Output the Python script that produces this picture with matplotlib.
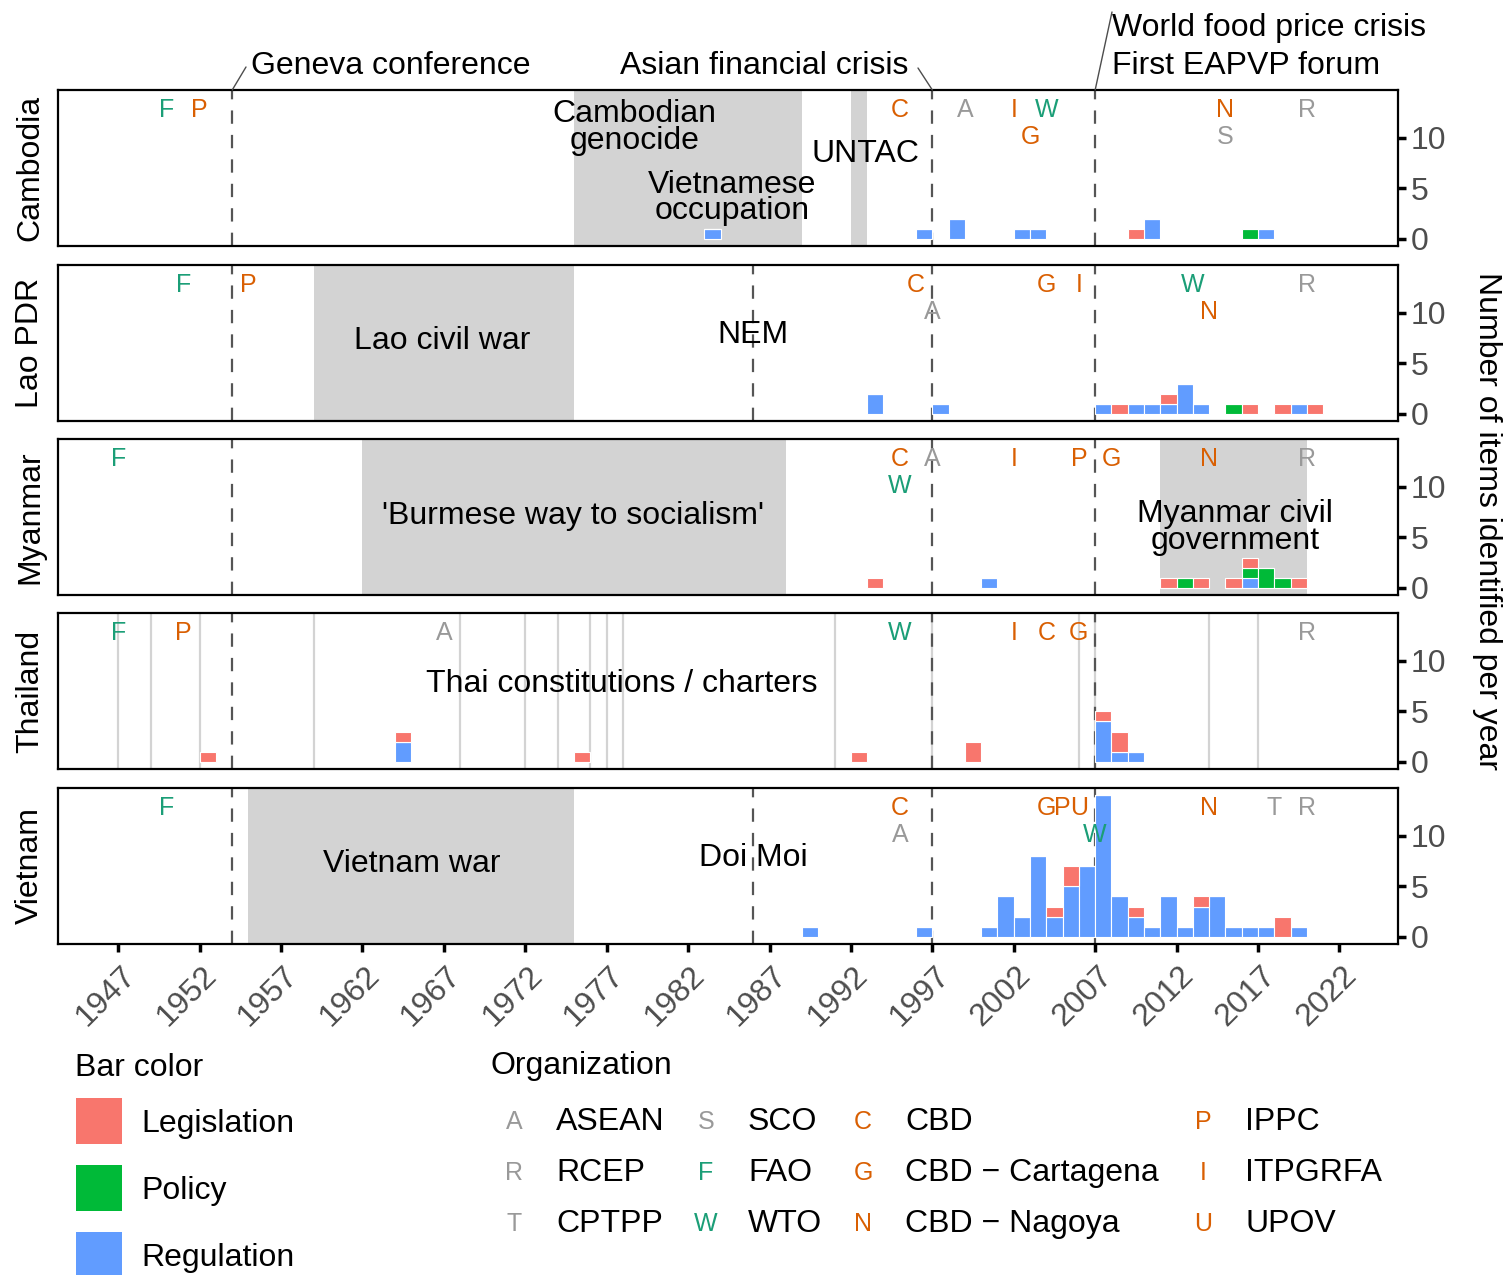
import matplotlib
matplotlib.use("Agg")
import matplotlib.pyplot as plt
from matplotlib.patches import Rectangle
from matplotlib.transforms import ScaledTranslation

plt.rcParams['font.family'] = ['Liberation Sans', 'DejaVu Sans']

W, H = 1508, 1275

countries = ["Cambodia", "Lao PDR", "Myanmar", "Thailand", "Vietnam"]
item_types = ["Legislation", "Policy", "Regulation"]
type_colors = ["#F8766D", "#00BA38", "#619CFF"]

# items per year, split by type
cambodia_years = [1983, 1996, 1998, 2002, 2003, 2009, 2010, 2016, 2017]
cambodia_legislation = [0, 0, 0, 0, 0, 1, 0, 0, 0]
cambodia_policy = [0, 0, 0, 0, 0, 0, 0, 1, 0]
cambodia_regulation = [1, 1, 2, 1, 1, 0, 2, 0, 1]

lao_years = [1993, 1997, 2007, 2008, 2009, 2010, 2011, 2012, 2013, 2015, 2016, 2018, 2019, 2020]
lao_legislation = [0, 0, 0, 1, 0, 0, 1, 0, 0, 0, 1, 1, 0, 1]
lao_policy = [0, 0, 0, 0, 0, 0, 0, 0, 0, 1, 0, 0, 0, 0]
lao_regulation = [2, 1, 1, 0, 1, 1, 1, 3, 1, 0, 0, 0, 1, 0]

myanmar_years = [1993, 2000, 2011, 2012, 2013, 2015, 2016, 2017, 2018, 2019]
myanmar_legislation = [1, 0, 1, 0, 1, 1, 1, 0, 0, 1]
myanmar_policy = [0, 0, 0, 1, 0, 0, 1, 2, 1, 0]
myanmar_regulation = [0, 1, 0, 0, 0, 0, 1, 0, 0, 0]

thailand_years = [1952, 1964, 1975, 1992, 1999, 2007, 2008, 2009]
thailand_legislation = [1, 1, 1, 1, 2, 1, 2, 0]
thailand_policy = [0, 0, 0, 0, 0, 0, 0, 0]
thailand_regulation = [0, 2, 0, 0, 0, 4, 1, 1]

vietnam_years = [1989, 1996, 2000, 2001, 2002, 2003, 2004, 2005, 2006, 2007, 2008,
                 2009, 2010, 2011, 2012, 2013, 2014, 2015, 2016, 2017, 2018, 2019]
vietnam_legislation = [0, 0, 0, 0, 0, 0, 1, 2, 0, 0, 0, 1, 0, 0, 0, 1, 0, 0, 0, 0, 2, 0]
vietnam_policy = [0] * 22
vietnam_regulation = [1, 1, 1, 4, 2, 8, 2, 5, 7, 14, 4, 2, 1, 4, 1, 3, 4, 1, 1, 1, 0, 1]

# organization memberships (letter, year, stacking level)
cambodia_org = ["F", "P", "C", "A", "I", "W", "G", "N", "S", "R"]
cambodia_org_year = [1950, 1952, 1995, 1999, 2002, 2004, 2003, 2015, 2015, 2020]
cambodia_org_level = [1, 1, 1, 1, 1, 1, 2, 1, 2, 1]

lao_org = ["F", "P", "C", "A", "G", "I", "W", "N", "R"]
lao_org_year = [1951, 1955, 1996, 1997, 2004, 2006, 2013, 2014, 2020]
lao_org_level = [1, 1, 1, 2, 1, 1, 1, 2, 1]

myanmar_org = ["F", "C", "W", "A", "I", "P", "G", "N", "R"]
myanmar_org_year = [1947, 1995, 1995, 1997, 2002, 2006, 2008, 2014, 2020]
myanmar_org_level = [1, 1, 2, 1, 1, 1, 1, 1, 1]

thailand_org = ["F", "P", "A", "W", "I", "C", "G", "R"]
thailand_org_year = [1947, 1951, 1967, 1995, 2002, 2004, 2006, 2020]
thailand_org_level = [1, 1, 1, 1, 1, 1, 1, 1]

vietnam_org = ["F", "C", "A", "G", "P", "U", "W", "N", "T", "R"]
vietnam_org_year = [1950, 1995, 1995, 2004, 2005, 2006, 2007, 2014, 2018, 2020]
vietnam_org_level = [1, 1, 2, 1, 1, 1, 2, 1, 1, 1]

org_letters = ["A", "R", "T", "S", "F", "W", "C", "G", "N", "P", "I", "U"]
org_names = ["ASEAN", "RCEP", "CPTPP", "SCO", "FAO", "WTO", "CBD", "CBD \u2212 Cartagena",
             "CBD \u2212 Nagoya", "IPPC", "ITPGRFA", "UPOV"]
org_group_color = {"A": "#999999", "R": "#999999", "T": "#999999", "S": "#999999",
                   "F": "#1B9E77", "W": "#1B9E77",
                   "C": "#D95F02", "G": "#D95F02", "N": "#D95F02",
                   "P": "#D95F02", "I": "#D95F02", "U": "#D95F02"}

# shaded historical periods
cambodia_periods = [(1975, 1979), (1979, 1989), (1992, 1993)]
lao_periods = [(1959, 1975)]
myanmar_periods = [(1962, 1988), (2011, 2020)]
thailand_periods = []
vietnam_periods = [(1955, 1975)]

thai_constitution_years = [1947, 1949, 1952, 1959, 1968, 1972, 1974, 1976, 1977, 1978,
                           1991, 1997, 2006, 2007, 2014, 2017]

shared_events = [1954, 1997, 2007]
reform_year = 1986

bars = {
    "Cambodia": (cambodia_years, cambodia_legislation, cambodia_policy, cambodia_regulation),
    "Lao PDR": (lao_years, lao_legislation, lao_policy, lao_regulation),
    "Myanmar": (myanmar_years, myanmar_legislation, myanmar_policy, myanmar_regulation),
    "Thailand": (thailand_years, thailand_legislation, thailand_policy, thailand_regulation),
    "Vietnam": (vietnam_years, vietnam_legislation, vietnam_policy, vietnam_regulation),
}
orgs = {
    "Cambodia": (cambodia_org, cambodia_org_year, cambodia_org_level),
    "Lao PDR": (lao_org, lao_org_year, lao_org_level),
    "Myanmar": (myanmar_org, myanmar_org_year, myanmar_org_level),
    "Thailand": (thailand_org, thailand_org_year, thailand_org_level),
    "Vietnam": (vietnam_org, vietnam_org_year, vietnam_org_level),
}
periods = {
    "Cambodia": cambodia_periods, "Lao PDR": lao_periods, "Myanmar": myanmar_periods,
    "Thailand": thailand_periods, "Vietnam": vietnam_periods,
}
# period labels: (x, y, text)
period_labels = {
    "Cambodia": [(1978.7, 11.0, "Cambodian\ngenocide"), (1984.7, 4.05, "Vietnamese\noccupation"),
                 (1992.9, 8.35, "UNTAC")],
    "Lao PDR": [(1966.9, 7.15, "Lao civil war"), (1986, 7.75, "NEM")],
    "Myanmar": [(1974.9, 7.05, "'Burmese way to socialism'"), (2015.6, 5.95, "Myanmar civil\ngovernment")],
    "Thailand": [(1977.9, 7.65, "Thai constitutions / charters")],
    "Vietnam": [(1965, 7.15, "Vietnam war"), (1986, 7.75, "Doi Moi")],
}

FS = 23
XMIN, XMAX = 1943.3, 2025.6
YMIN, YMAX = -0.7, 14.7
panel_tops = [90, 265, 439, 613, 788]
panel_h = 156
left_px, right_px = 58, 1398


def fx(px):
    return px / W


def fy(py):
    # small downward nudge so text centres sit where the glyphs appear
    return 1 - (py + 3) / H


fig = plt.figure(figsize=(W / 100, H / 100), dpi=100)
axes = []
for i, country in enumerate(countries):
    ax = fig.add_axes([fx(left_px), 1 - (panel_tops[i] + panel_h) / H,
                       (right_px - left_px) / W, panel_h / H])
    axes.append(ax)
    ax.set_xlim(XMIN, XMAX)
    ax.set_ylim(YMIN, YMAX)

    for start, end in periods[country]:
        ax.axvspan(start, end, color="#D3D3D3", lw=0, zorder=0)
    if country == "Thailand":
        for yr in thai_constitution_years:
            ax.axvline(yr, color="#D3D3D3", lw=1.6, zorder=0.5)

    events = list(shared_events)
    if country in ("Lao PDR", "Vietnam"):
        events.append(reform_year)
    for yr in events:
        ax.axvline(yr, color="#555555", lw=1.6, dashes=(6, 5), zorder=1)

    years, leg, pol, reg = bars[country]
    bottom = [0] * len(years)
    for vals, col in [(reg, type_colors[2]), (pol, type_colors[1]), (leg, type_colors[0])]:
        ax.bar(years, vals, width=1, align="edge", bottom=bottom, color=col,
               edgecolor="white", linewidth=0.8, zorder=2)
        bottom = [b + v for b, v in zip(bottom, vals)]

    letters, oyears, levels = orgs[country]
    for letter, yr, lvl in zip(letters, oyears, levels):
        ax.text(yr, 12.7 if lvl == 1 else 10.1, letter, color=org_group_color[letter],
                fontsize=18, ha="center", va="center", zorder=3)

    for x, y, txt in period_labels[country]:
        ax.text(x, y, txt, fontsize=FS, ha="center", va="center", linespacing=0.85, zorder=3)

    ax.yaxis.tick_right()
    ax.set_yticks([0, 5, 10])
    ax.tick_params(axis="y", labelsize=FS, labelcolor="#4D4D4D", length=6, width=2.5, pad=3)
    ax.set_xticks(range(1947, 2023, 5))
    if i < len(countries) - 1:
        ax.tick_params(axis="x", length=0, labelbottom=False)
    else:
        ax.tick_params(axis="x", labelsize=FS, labelcolor="#4D4D4D", length=6, width=2.5, pad=6)
        for lab in ax.get_xticklabels():
            lab.set_rotation(45)
            lab.set_ha("right")
            lab.set_va("top")
            lab.set_rotation_mode("anchor")
            lab.set_transform(lab.get_transform() + ScaledTranslation(0.02, 0, fig.dpi_scale_trans))
    for sp in ax.spines.values():
        sp.set_linewidth(1.6)
        sp.set_color("black")

    fig.text(fx(30), fy(panel_tops[i] + panel_h / 2 - 3), country, rotation=90,
             ha="center", va="center", fontsize=FS)

fig.text(fx(1487), fy(518), "Number of items identified per year", rotation=270,
         ha="center", va="center", fontsize=FS)

# event annotations above the first panel
top_ax = axes[0]
leader = dict(arrowstyle="-", color="#4D4D4D", lw=1, shrinkA=0, shrinkB=0)
for yr, (px, py) in [(1954, (246, 67)), (1997, (918, 68)), (2007, (1112, 12))]:
    top_ax.annotate("", xy=(yr, YMAX), xycoords="data", xytext=(px, H - py),
                    textcoords="figure pixels", arrowprops=leader, annotation_clip=False)
fig.text(fx(251), fy(63), "Geneva conference", ha="left", va="center", fontsize=FS)
fig.text(fx(908), fy(63), "Asian financial crisis", ha="right", va="center", fontsize=FS)
fig.text(fx(1112), fy(25), "World food price crisis", ha="left", va="center", fontsize=FS)
fig.text(fx(1112), fy(63), "First EAPVP forum", ha="left", va="center", fontsize=FS)

# legend: bar colour
fig.text(fx(75), fy(1065), "Bar color", ha="left", va="center", fontsize=FS)
for k, (name, col) in enumerate(zip(item_types, type_colors)):
    top = 1098 + k * 67
    fig.add_artist(Rectangle((fx(76), 1 - (top + 46) / H), 46 / W, 46 / H,
                             transform=fig.transFigure, facecolor=col, lw=0))
    fig.text(fx(141), fy(top + 23), name, ha="left", va="center", fontsize=FS)

# legend: organization
fig.text(fx(490), fy(1063), "Organization", ha="left", va="center", fontsize=FS)
col_letter_x = [514, 706, 863, 1203]
col_name_x = [556, 748, 905, 1245]
for k, (letter, name) in enumerate(zip(org_letters, org_names)):
    c, r = divmod(k, 3)
    y = 1119 + r * 51
    fig.text(fx(col_letter_x[c]), fy(y), letter, color=org_group_color[letter],
             ha="center", va="center", fontsize=18)
    fig.text(fx(col_name_x[c]), fy(y), name, ha="left", va="center", fontsize=FS)

fig.savefig("out.png", dpi=100)
